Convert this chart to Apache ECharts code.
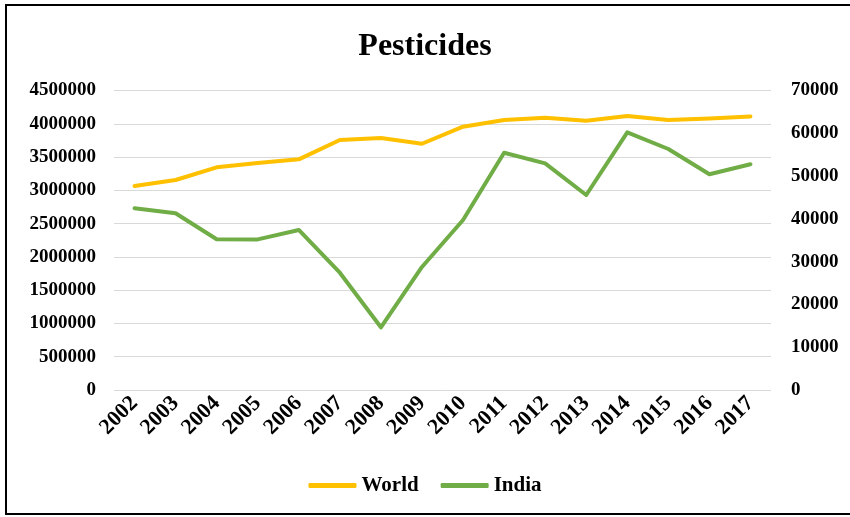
<!DOCTYPE html>
<html>
<head>
<meta charset="utf-8">
<title>Pesticides</title>
<script src="https://cdn.jsdelivr.net/npm/echarts@6/dist/echarts.min.js"></script>
<style>
  html, body { margin: 0; padding: 0; background: #fff; }
  #chart { width: 850px; height: 517px; }
</style>
</head>
<body>
<div id="chart"></div>
<script>
// Years on the category axis
const years = ['2002', '2003', '2004', '2005', '2006', '2007', '2008', '2009',
               '2010', '2011', '2012', '2013', '2014', '2015', '2016', '2017'];

// World pesticide use (left axis)
const worldValues = [3065000, 3155000, 3346000, 3410000, 3466000, 3756000, 3786000, 3700000,
                     3956000, 4057000, 4090000, 4046000, 4117000, 4057000, 4080000, 4110000];

// India pesticide use (right axis)
const indiaValues = [42470, 41300, 35220, 35200, 37400, 27420, 14650, 28750,
                     39730, 55460, 52980, 45580, 60230, 56330, 50410, 52750];

// Axis ranges
const leftAxis = { min: 0, max: 4500000, interval: 500000 };
const rightAxis = { min: 0, max: 70000, interval: 10000 };

const serif = '"Liberation Serif", "Times New Roman", serif';
const labelText = { fontFamily: serif, fontWeight: 'bold', fontSize: 19, color: '#000' };
const plain = v => String(v);

const chart = echarts.init(document.getElementById('chart'), null, { renderer: 'canvas' });

chart.setOption({
  backgroundColor: '#fff',
  animation: false,
  title: {
    text: 'Pesticides',
    left: 'center',
    top: 26,
    textStyle: { fontFamily: serif, fontWeight: 'bold', fontSize: 32, color: '#000' }
  },
  graphic: [{
    type: 'rect',
    shape: { x: 6, y: 5, width: 900, height: 509 },
    style: { fill: 'none', stroke: '#000', lineWidth: 2 },
    silent: true
  }],
  legend: {
    bottom: 16,
    left: 'center',
    icon: 'roundRect',
    itemWidth: 48,
    itemHeight: 5,
    itemGap: 22,
    textStyle: { fontFamily: serif, fontWeight: 'bold', fontSize: 21, color: '#000' },
    data: ['World', 'India']
  },
  grid: { left: 114, right: 79, top: 90.5, bottom: 127, containLabel: false },
  xAxis: {
    type: 'category',
    data: years,
    boundaryGap: true,
    axisLine: { show: false },
    axisTick: { show: false },
    axisLabel: Object.assign({}, labelText, { rotate: 45, margin: 10, interval: 0, fontSize: 22 })
  },
  yAxis: [{
    type: 'value',
    position: 'left',
    min: leftAxis.min,
    max: leftAxis.max,
    interval: leftAxis.interval,
    axisLine: { show: false },
    axisTick: { show: false },
    axisLabel: Object.assign({ margin: 18, formatter: plain }, labelText),
    splitLine: { lineStyle: { color: '#d9d9d9', width: 1 } }
  }, {
    type: 'value',
    position: 'right',
    min: rightAxis.min,
    max: rightAxis.max,
    interval: rightAxis.interval,
    axisLine: { show: false },
    axisTick: { show: false },
    axisLabel: Object.assign({ margin: 20, formatter: plain }, labelText),
    splitLine: { show: false }
  }],
  series: [{
    name: 'World',
    type: 'line',
    yAxisIndex: 0,
    data: worldValues,
    symbol: 'none',
    color: '#ffc000',
    lineStyle: { color: '#ffc000', width: 4, cap: 'round', join: 'round' }
  }, {
    name: 'India',
    type: 'line',
    yAxisIndex: 1,
    data: indiaValues,
    symbol: 'none',
    color: '#70ad47',
    lineStyle: { color: '#70ad47', width: 4, cap: 'round', join: 'round' }
  }]
});
</script>
</body>
</html>
